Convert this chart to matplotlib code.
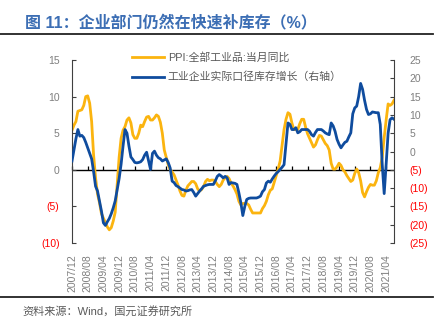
import numpy as np
import matplotlib
matplotlib.use("Agg")
import matplotlib.pyplot as plt
from matplotlib.lines import Line2D
from matplotlib.markers import TICKUP

plt.rcParams['font.family'] = ['Liberation Sans', 'Noto Sans CJK SC']

# Monthly series, 2007/12 .. 2021/08
start_year, start_month = 2007, 12

ppi = [
    5.4,
    6.1, 6.6, 8.0, 8.1, 8.2, 8.8, 10.0, 10.1, 9.1, 6.6, 2.0, -1.1,
    -3.3, -4.5, -6.0, -6.6, -7.2, -7.8, -8.2, -7.9, -7.0, -5.8, -2.1, 1.7,
    4.3, 5.4, 5.9, 6.8, 7.1, 6.4, 4.8, 4.3, 4.3, 5.0, 6.1, 5.9,
    6.6, 7.2, 7.3, 6.8, 6.8, 7.1, 7.5, 7.3, 6.5, 5.0, 2.7, 1.7,
    0.7, 0.0, -0.3, -0.7, -1.4, -2.1, -2.9, -3.5, -3.6, -2.8, -2.2, -1.9,
    -1.6, -1.6, -1.9, -2.6, -2.9, -2.7, -2.3, -1.6, -1.3, -1.5, -1.4, -1.4,
    -1.6, -2.0, -2.3, -2.0, -1.4, -1.1, -0.9, -1.2, -1.8, -2.2, -2.7, -3.3,
    -4.3, -4.8, -4.6, -4.6, -4.6, -4.8, -5.4, -5.9, -5.9, -5.9, -5.9, -5.9,
    -5.3, -4.9, -4.3, -3.4, -2.8, -2.6, -1.7, -0.8, 0.1, 1.2, 3.3, 5.5,
    6.9, 7.8, 7.6, 6.4, 5.5, 5.5, 5.5, 6.3, 6.9, 6.9, 5.8, 4.9,
    4.3, 3.7, 3.1, 3.4, 4.1, 4.7, 4.6, 4.1, 3.6, 3.3, 2.7, 0.9,
    0.1, 0.1, 0.4, 0.9, 0.6, 0.0, -0.3, -0.8, -1.2, -1.6, -1.4, -0.5,
    0.1, -0.4, -1.5, -3.1, -3.7, -3.0, -2.4, -2.0, -2.1, -2.1, -1.5, -0.4,
    0.3, 1.7, 4.4, 6.8, 9.0, 8.8, 9.0, 9.5,
]

inventory_real = [
    -2.6,
    0.5, 3.5, 6.0, 4.2, 4.4, 3.8, 2.5, 1.0, -0.5, -2.0, -5.5, -9.5,
    -10.8, -13.5, -16.3, -19.5, -20.2, -19.2, -18.3, -17.0, -15.4, -13.5, -10.5, -7.4,
    -3.5, 1.5, 6.0, 5.0, 1.5, -1.5, -2.2, -3.0, -3.1, -3.0, -2.8, -2.2,
    -1.0, -0.2, -2.5, -4.9, -0.5, 0.1, -1.0, -1.7, -2.0, -2.6, -2.3, -2.0,
    -3.0, -4.5, -8.1, -8.5, -9.3, -9.6, -10.0, -10.4, -10.5, -10.8, -10.7, -10.5,
    -10.4, -11.2, -12.2, -11.5, -10.8, -10.2, -9.5, -9.3, -9.1, -9.0, -9.0, -9.0,
    -8.0, -6.8, -6.3, -6.7, -7.2, -6.8, -7.2, -9.0, -8.5, -8.6, -8.7, -9.0,
    -11.3, -14.0, -17.5, -15.0, -13.1, -12.8, -12.7, -12.7, -12.7, -12.7, -12.5, -12.2,
    -11.0, -10.4, -8.6, -8.1, -8.4, -7.5, -6.7, -6.0, -5.5, -4.9, -4.3, -3.6,
    2.0, 7.8, 7.4, 6.0, 6.0, 6.5, 5.1, 5.4, 6.0, 6.0, 6.0, 6.0,
    5.5, 4.6, 4.2, 5.2, 6.0, 6.0, 6.0, 5.6, 5.1, 4.8, 4.6, 7.8,
    7.0, 5.5, 3.3, 2.0, 1.0, 1.8, 2.5, 2.8, 4.0, 5.1, 10.3, 11.9,
    12.4, 15.0, 18.6, 17.0, 14.0, 11.5, 10.1, 10.3, 10.8, 10.7, 10.6, 10.6,
    7.4, -3.5, -11.5, -3.5, 5.0, 8.7, 9.2, 8.8,
]

ppi_label = "PPI:全部工业品:当月同比"
inv_label = "工业企业实际口径库存增长（右轴）"
title_text = "图 11：企业部门仍然在快速补库存（%）"
source_text = "资料来源：Wind，国元证券研究所"

left_ticks = [-10, -5, 0, 5, 10, 15]
right_ticks = [-25, -20, -15, -10, -5, 0, 5, 10, 15, 20, 25]
tick_step = 8

# Month labels
n = len(ppi)
labels_all = []
y, mth = start_year, start_month
for _ in range(n):
    labels_all.append(f"{y}/{mth:02d}")
    mth += 1
    if mth > 12:
        mth = 1
        y += 1
x = np.arange(n)
xt = x[::tick_step]
xt_labels = [labels_all[i] for i in xt]

ORANGE = '#FBB40F'
BLUE = '#0F4C9E'
GRAY = '#7F7F7F'
RED = '#FF0000'
SPINE = '#404040'

W, H = 440, 328
fig = plt.figure(figsize=(W / 100, H / 100), dpi=100)
ax = fig.add_axes([72 / W, 1 - 243 / H, (394 - 72) / W, (243 - 60) / H])
ax2 = ax.twinx()

ax.plot(x, ppi, color=ORANGE, lw=2.0, solid_joinstyle='round')
ax2.plot(x, inventory_real, color=BLUE, lw=2.0, solid_joinstyle='round')

ax.set_xlim(0, n - 1)
ax.set_ylim(left_ticks[0], left_ticks[-1])
ax2.set_ylim(right_ticks[0], right_ticks[-1])

def fmt(v):
    return f"({abs(v)})" if v < 0 else f"{v}"

ax.set_yticks(left_ticks, labels=[fmt(v) for v in left_ticks])
ax2.set_yticks(right_ticks, labels=[fmt(v) for v in right_ticks])
for a, ticks in ((ax, left_ticks), (ax2, right_ticks)):
    for lab, v in zip(a.get_yticklabels(), ticks):
        lab.set_color(RED if v < 0 else GRAY)
ax.tick_params(axis='y', direction='in', length=3, width=0.8, color=SPINE,
               labelsize=7.5, pad=9)
ax2.tick_params(axis='y', direction='in', length=3, width=0.8, color=SPINE,
                labelsize=7.5, pad=11)

ax.set_xticks(xt, labels=xt_labels, rotation=90)
ax.tick_params(axis='x', length=0, labelsize=7.5, labelcolor=GRAY, pad=8)

for a in (ax, ax2):
    a.spines['top'].set_visible(False)
    a.spines['bottom'].set_visible(False)
ax.spines['left'].set_color(SPINE)
ax.spines['right'].set_visible(False)
ax2.spines['left'].set_visible(False)
ax2.spines['right'].set_color(SPINE)

# category axis crossing at zero, with upward tick marks
ax.axhline(0, color='black', lw=1.0, zorder=1)
ax.plot(xt, np.zeros(len(xt)), ls='none', marker=TICKUP, ms=3.2, mew=0.9,
        color='black', zorder=1, clip_on=False)

handles = [Line2D([], [], color=ORANGE, lw=2.0), Line2D([], [], color=BLUE, lw=2.0)]
fig.legend(handles, [ppi_label, inv_label], loc='upper left',
           bbox_to_anchor=(130 / W, 1 - 49.5 / H), frameon=False, fontsize=7.8,
           handlelength=2.9, handletextpad=0.4, labelspacing=0.85,
           labelcolor='#595959', borderaxespad=0, borderpad=0.2)

fig.text(25 / W, 1 - 22 / H, title_text, fontsize=11.5, fontweight='bold',
         color='#3C6EB4', ha='left', va='center')
fig.add_artist(Line2D([0, 433 / W], [1 - 33.5 / H] * 2, color='#222222', lw=1.3))
fig.add_artist(Line2D([0, 433 / W], [1 - 296.5 / H] * 2, color='#222222', lw=1.3))
fig.text(22 / W, 1 - 311 / H, source_text, fontsize=8, color='#595959',
         ha='left', va='center')

fig.savefig('out.png', dpi=100)
